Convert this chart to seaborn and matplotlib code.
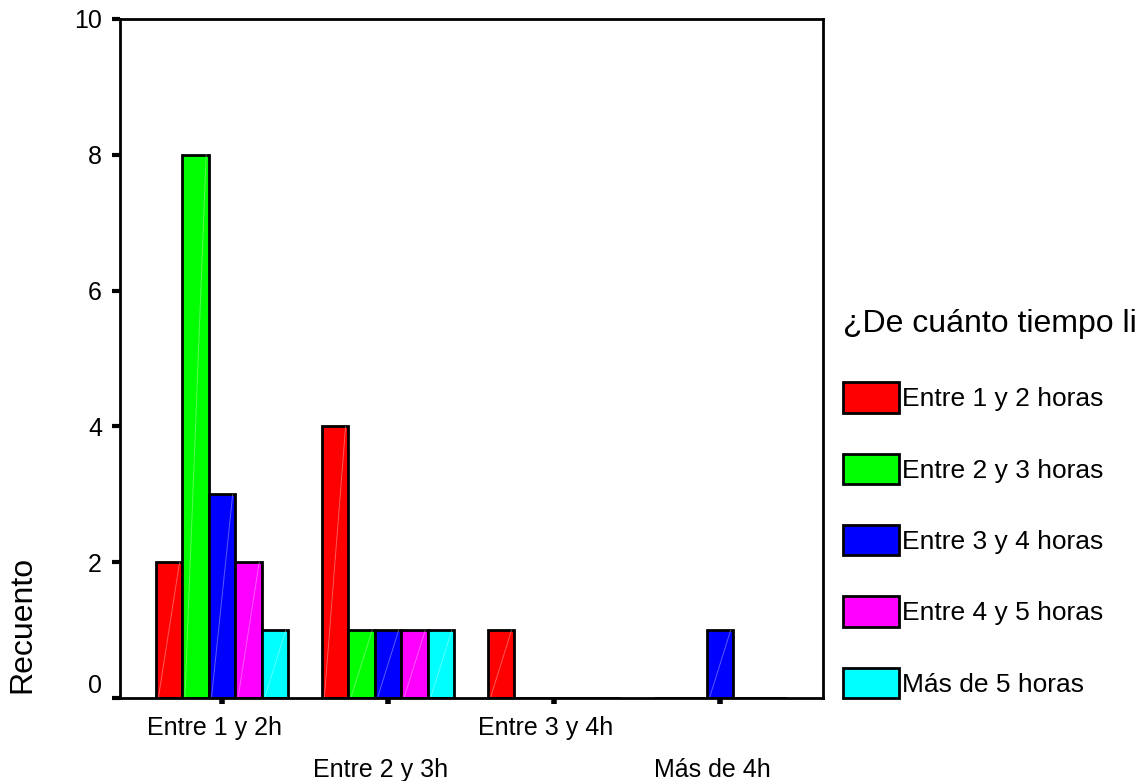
import numpy as np
import pandas as pd
import seaborn as sns
import matplotlib.pyplot as plt
import matplotlib.patches as mpatches
import matplotlib.transforms as mtransforms

# data
categorias = ["Entre 1 y 2h", "Entre 2 y 3h", "Entre 3 y 4h", "Más de 4h"]
grupos = ["Entre 1 y 2 horas", "Entre 2 y 3 horas", "Entre 3 y 4 horas",
          "Entre 4 y 5 horas", "Más de 5 horas"]
recuento_1_2 = [2, 4, 1, 0]
recuento_2_3 = [8, 1, 0, 0]
recuento_3_4 = [3, 1, 0, 1]
recuento_4_5 = [2, 1, 0, 0]
recuento_mas_5 = [1, 1, 0, 0]
colores = ["#ff0000", "#00ff00", "#0000ff", "#ff00ff", "#00ffff"]
titulo_leyenda = "¿De cuánto tiempo li"

series = [recuento_1_2, recuento_2_3, recuento_3_4, recuento_4_5, recuento_mas_5]
rows = []
for g, vals in zip(grupos, series):
    for c, v in zip(categorias, vals):
        rows.append({"cat": c, "grupo": g, "n": v})
df = pd.DataFrame(rows)

sns.set_theme(style="white")
plt.rcParams["font.family"] = ["Liberation Sans", "DejaVu Sans"]
plt.rcParams["text.color"] = "black"
plt.rcParams["axes.labelcolor"] = "black"

fig = plt.figure(figsize=(11.44, 7.81), dpi=100)
ax = fig.add_axes([0.1049, 0.1063, 0.6145, 0.8694])

sns.barplot(data=df, x="cat", y="n", hue="grupo", order=categorias,
            hue_order=grupos, palette=colores, saturation=1, width=0.8,
            edgecolor="black", linewidth=2.0, legend=False, ax=ax)

# faint diagonal line inside each bar (SPSS look)
for p in ax.patches:
    x0, y0 = p.get_x(), p.get_y()
    w, h = p.get_width(), p.get_height()
    if h > 0:
        ax.plot([x0 + w * 0.1, x0 + w * 0.9], [y0, y0 + h], color="white",
                lw=0.7, alpha=0.35, zorder=p.get_zorder() + 0.1)

ax.set_xlim(-0.615, 3.62)
ax.set_ylim(0, 10)
ax.set_yticks([0, 2, 4, 6, 8, 10])
ax.set_xlabel("")
ax.set_ylabel("Recuento", fontsize=23, color="black")
ax.yaxis.set_label_coords(-0.117, 0.109)

for s in ax.spines.values():
    s.set_visible(True)
    s.set_color("black")
    s.set_linewidth(2.0)

ax.tick_params(axis="y", direction="out", length=6, width=3, pad=7,
               labelsize=18, left=True, colors="black")
ax.tick_params(axis="x", direction="out", length=4, width=4, pad=9,
               labelsize=18, bottom=True, colors="black")

ylabels = ax.get_yticklabels()
ylabels[0].set_va("bottom")
# x labels sit a little left of their ticks, every other one lower
shift = mtransforms.ScaledTranslation(-8 / 100, 0, fig.dpi_scale_trans)
for i, lab in enumerate(ax.get_xticklabels()):
    lab.set_transform(lab.get_transform() + shift)
    if i % 2 == 1:
        lab.set_y(-0.062)

handles = [mpatches.Patch(facecolor=c, edgecolor="black", linewidth=2.0)
           for c in colores]
leg = ax.legend(handles, grupos, title=titulo_leyenda, loc="upper left",
                bbox_to_anchor=(830 / 1144, 1 - 296 / 781),
                bbox_transform=fig.transFigure, frameon=False,
                fontsize=19, title_fontsize=23, handlelength=2.1,
                handleheight=1.4, labelspacing=1.55, handletextpad=0.12,
                borderpad=0, alignment="left")
leg._legend_box.sep = 31
for t in leg.get_texts():
    t.set_color("black")
leg.get_title().set_color("black")

fig.savefig("out.png", dpi=100)
